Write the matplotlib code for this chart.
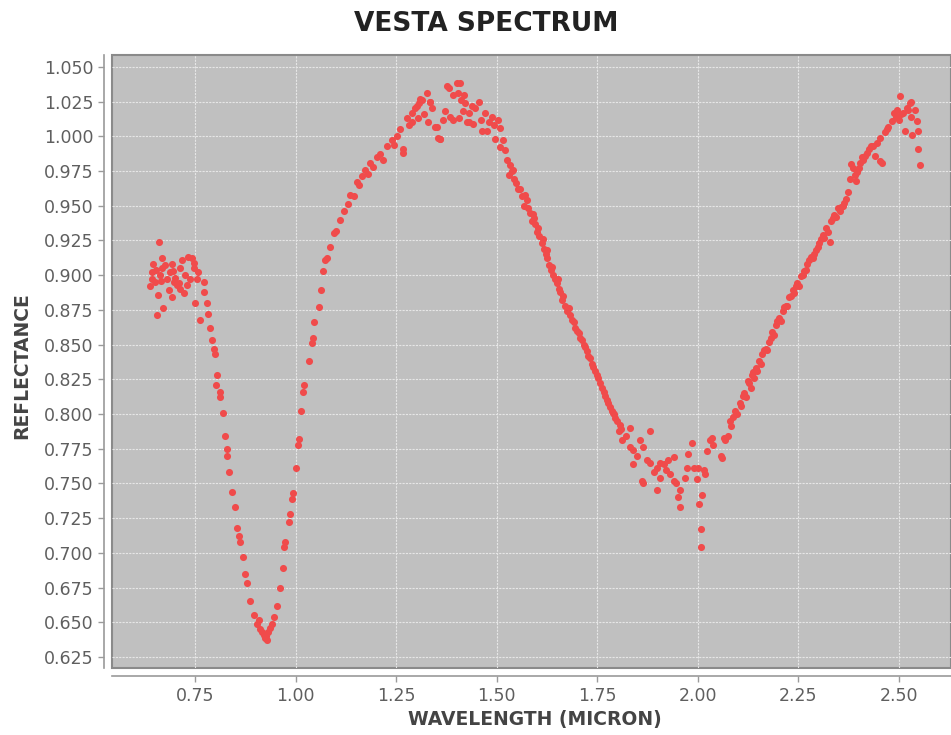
import numpy as np
import matplotlib
matplotlib.use("Agg")
import matplotlib.pyplot as plt
from matplotlib.ticker import FormatStrFormatter

# Vesta reflectance spectrum, wavelength in microns
wl_vis = [0.659, 0.646, 0.667, 0.642, 0.642, 0.638, 0.652, 0.663, 0.675, 0.679,
          0.688, 0.692, 0.696, 0.684, 0.692, 0.700, 0.713, 0.717, 0.725, 0.733,
          0.742, 0.729, 0.746, 0.754, 0.758, 0.771, 0.771, 0.713, 0.710, 0.671,
          0.654, 0.665, 0.650, 0.695, 0.750, 0.762, 0.779, 0.781, 0.657, 0.705,
          0.737, 0.668, 0.722, 0.748]
refl_vis = [0.924, 0.908, 0.912, 0.902, 0.897, 0.892, 0.904, 0.900, 0.907, 0.897,
            0.902, 0.908, 0.895, 0.889, 0.884, 0.898, 0.905, 0.911, 0.900, 0.913,
            0.912, 0.893, 0.905, 0.897, 0.902, 0.895, 0.888, 0.890, 0.894, 0.876,
            0.871, 0.896, 0.895, 0.903, 0.880, 0.868, 0.880, 0.872, 0.886, 0.893,
            0.897, 0.905, 0.887, 0.909]

# 1 micron band
wl_b1 = [0.787, 0.791, 0.796, 0.800, 0.805, 0.802, 0.811, 0.812, 0.820, 0.825,
         0.829, 0.830, 0.835, 0.841, 0.850, 0.854, 0.858, 0.862, 0.869, 0.874,
         0.879, 0.885, 0.895, 0.903, 0.912, 0.920, 0.924, 0.928, 0.932, 0.941,
         0.945, 0.953, 0.961, 0.968, 0.971, 0.973, 0.982, 0.985, 0.991, 0.993,
         1.000, 1.005, 1.007, 1.013, 1.018, 1.020, 1.032, 1.040, 1.043, 1.046,
         1.057, 1.063, 1.069, 1.073, 0.916, 0.936, 0.926, 0.908]
refl_b1 = [0.862, 0.853, 0.847, 0.843, 0.828, 0.821, 0.816, 0.812, 0.801, 0.784,
           0.775, 0.770, 0.758, 0.744, 0.733, 0.718, 0.712, 0.708, 0.697, 0.685,
           0.678, 0.665, 0.655, 0.649, 0.645, 0.641, 0.639, 0.637, 0.643, 0.649,
           0.654, 0.662, 0.675, 0.689, 0.704, 0.708, 0.722, 0.728, 0.739, 0.743,
           0.761, 0.778, 0.782, 0.802, 0.816, 0.821, 0.838, 0.851, 0.855, 0.866,
           0.877, 0.889, 0.903, 0.911, 0.643, 0.646, 0.640, 0.652]

# continuum peak near 1.4 micron
wl_peak = [1.079, 1.086, 1.094, 1.099, 1.111, 1.121, 1.131, 1.136, 1.146, 1.152,
           1.164, 1.173, 1.180, 1.185, 1.202, 1.210, 1.218, 1.227, 1.239, 1.251,
           1.260, 1.268, 1.277, 1.289, 1.301, 1.303, 1.314, 1.326, 1.333, 1.347,
           1.355, 1.360, 1.372, 1.376, 1.380, 1.409, 1.410, 1.416, 1.430, 1.268,
           1.290, 1.306, 1.335, 1.330, 1.351, 1.359, 1.384, 1.401, 1.403, 1.405,
           1.422, 1.426, 1.438, 1.440, 1.455, 1.463, 1.471, 1.476, 1.488, 1.496,
           1.504, 1.509, 1.509, 1.515, 1.192, 1.157, 1.245, 1.282, 1.318, 1.392,
           1.296, 1.310, 1.340, 1.366, 1.392, 1.418, 1.432, 1.447, 1.460, 1.480,
           1.492]
refl_peak = [0.912, 0.920, 0.930, 0.932, 0.940, 0.946, 0.951, 0.958, 0.957, 0.967,
             0.971, 0.976, 0.973, 0.981, 0.985, 0.987, 0.983, 0.993, 0.997, 1.000,
             1.005, 0.991, 1.013, 1.017, 1.022, 1.013, 1.026, 1.031, 1.025, 1.007,
             0.999, 0.998, 1.018, 1.036, 1.035, 1.038, 1.026, 1.018, 1.010, 0.988,
             1.010, 1.024, 1.025, 1.010, 1.007, 0.998, 1.014, 1.038, 1.031, 1.013,
             1.024, 1.010, 1.022, 1.009, 1.025, 1.004, 1.017, 1.004, 1.014, 0.998,
             1.012, 1.006, 0.992, 0.997, 0.978, 0.965, 0.994, 1.008, 1.016, 1.012,
             1.020, 1.027, 1.020, 1.012, 1.030, 1.030, 1.017, 1.020, 1.012, 1.010,
             1.008]

# descending side into the 2 micron band
wl_down = [1.525, 1.534, 1.540, 1.542, 1.554, 1.562, 1.575, 1.583, 1.587, 1.596,
           1.600, 1.612, 1.625, 1.625, 1.629, 1.641, 1.650, 1.658, 1.662, 1.670,
           1.683, 1.691, 1.700, 1.708, 1.716, 1.724, 1.733, 1.740, 1.749, 1.757,
           1.766, 1.774, 1.782, 1.791, 1.799, 1.803, 1.810, 1.548, 1.568, 1.592,
           1.606, 1.618, 1.635, 1.655, 1.676, 1.695, 1.712, 1.728, 1.745, 1.761,
           1.778, 1.786, 1.795, 1.531, 1.579, 1.646,
           1.520, 1.537, 1.558, 1.571, 1.590, 1.603, 1.615, 1.622, 1.638, 1.652,
           1.665, 1.680, 1.688, 1.704, 1.720, 1.737, 1.753, 1.770, 1.788, 1.806]
refl_down = [0.983, 0.979, 0.976, 0.969, 0.962, 0.957, 0.954, 0.945, 0.939, 0.937,
             0.931, 0.923, 0.918, 0.912, 0.907, 0.900, 0.894, 0.888, 0.882, 0.878,
             0.871, 0.866, 0.860, 0.855, 0.850, 0.845, 0.840, 0.834, 0.828, 0.822,
             0.816, 0.810, 0.805, 0.800, 0.795, 0.788, 0.789, 0.966, 0.950, 0.941,
             0.928, 0.919, 0.904, 0.890, 0.874, 0.862, 0.853, 0.842, 0.831, 0.819,
             0.808, 0.802, 0.797, 0.972, 0.948, 0.897,
             0.990, 0.975, 0.962, 0.958, 0.944, 0.934, 0.926, 0.915, 0.906, 0.897,
             0.885, 0.876, 0.868, 0.858, 0.848, 0.836, 0.826, 0.813, 0.801, 0.792]

# noisy 2 micron band minimum
wl_b2 = [1.832, 1.811, 1.832, 1.840, 1.857, 1.864, 1.882, 1.840, 1.874, 1.880,
         1.899, 1.905, 1.927, 1.940, 1.861, 1.865, 1.899, 1.907, 1.920, 1.932,
         1.940, 1.945, 1.956, 1.952, 1.956, 1.969, 1.973, 1.977, 1.986, 1.990,
         1.998, 2.000, 2.015, 2.017, 2.011, 2.003, 2.007, 2.007, 2.022, 2.031,
         2.035, 2.037, 2.057, 2.060, 2.069, 2.075, 1.822, 1.850, 1.890, 1.915]
refl_b2 = [0.790, 0.781, 0.776, 0.774, 0.781, 0.776, 0.788, 0.764, 0.767, 0.765,
           0.761, 0.765, 0.767, 0.769, 0.752, 0.750, 0.745, 0.754, 0.760, 0.757,
           0.752, 0.750, 0.745, 0.740, 0.733, 0.754, 0.761, 0.771, 0.779, 0.761,
           0.753, 0.761, 0.760, 0.757, 0.742, 0.735, 0.717, 0.704, 0.773, 0.781,
           0.783, 0.778, 0.770, 0.768, 0.781, 0.784, 0.784, 0.770, 0.758, 0.764]

# rising side up to the 2.5 micron edge
wl_up = [2.065, 2.080, 2.092, 2.105, 2.115, 2.127, 2.136, 2.144, 2.152, 2.161,
         2.169, 2.177, 2.185, 2.194, 2.202, 2.211, 2.219, 2.227, 2.236, 2.248,
         2.257, 2.265, 2.273, 2.282, 2.294, 2.302, 2.311, 2.319, 2.328, 2.332,
         2.340, 2.353, 2.361, 2.369, 2.374, 2.378, 2.382, 2.390, 2.393, 2.396,
         2.400, 2.404, 2.412, 2.416, 2.425, 2.430, 2.441, 2.453, 2.458, 2.446,
         2.453, 2.466, 2.474, 2.483, 2.487, 2.496, 2.504, 2.506, 2.510, 2.520,
         2.528, 2.531, 2.541, 2.531, 2.545, 2.515, 2.533, 2.549, 2.549, 2.553,
         2.082, 2.098, 2.107, 2.120, 2.132, 2.140, 2.148, 2.157, 2.173, 2.190,
         2.206, 2.223, 2.240, 2.252, 2.270, 2.286, 2.298, 2.315, 2.345, 2.357,
         2.386, 2.408, 2.420, 2.436, 2.470, 2.492, 2.500, 2.524,
         2.088, 2.112, 2.125, 2.138, 2.165, 2.181, 2.198, 2.215, 2.231, 2.244,
         2.261, 2.278, 2.290, 2.307, 2.323, 2.336, 2.349, 2.365]
refl_up = [0.783, 0.795, 0.802, 0.808, 0.815, 0.822, 0.828, 0.833, 0.838, 0.843,
           0.847, 0.852, 0.859, 0.864, 0.869, 0.874, 0.878, 0.884, 0.889, 0.894,
           0.899, 0.903, 0.908, 0.913, 0.918, 0.923, 0.929, 0.934, 0.924, 0.939,
           0.943, 0.946, 0.950, 0.955, 0.960, 0.969, 0.980, 0.972, 0.968, 0.974,
           0.977, 0.981, 0.983, 0.986, 0.991, 0.993, 0.986, 0.982, 0.981, 0.995,
           0.999, 1.003, 1.007, 1.011, 1.017, 1.019, 1.029, 1.016, 1.017, 1.020,
           1.024, 1.025, 1.019, 1.014, 1.011, 1.004, 1.001, 1.004, 0.991, 0.979,
           0.791, 0.800, 0.806, 0.812, 0.819, 0.826, 0.831, 0.836, 0.846, 0.857,
           0.867, 0.878, 0.887, 0.892, 0.904, 0.912, 0.920, 0.927, 0.942, 0.949,
           0.977, 0.985, 0.988, 0.993, 1.005, 1.014, 1.012, 1.019,
           0.798, 0.813, 0.824, 0.830, 0.846, 0.855, 0.867, 0.877, 0.885, 0.892,
           0.900, 0.911, 0.915, 0.926, 0.931, 0.941, 0.948, 0.952]

wavelength = np.concatenate([wl_vis, wl_b1, wl_peak, wl_down, wl_b2, wl_up])
reflectance = np.concatenate([refl_vis, refl_b1, refl_peak, refl_down, refl_b2, refl_up])

xticks = [0.75, 1.00, 1.25, 1.50, 1.75, 2.00, 2.25, 2.50]
yticks = [0.625, 0.650, 0.675, 0.700, 0.725, 0.750, 0.775, 0.800, 0.825, 0.850,
          0.875, 0.900, 0.925, 0.950, 0.975, 1.000, 1.025, 1.050]

fig = plt.figure(figsize=(9.51, 7.35), dpi=100, facecolor="white")
ax = fig.add_axes([0.1178, 0.0912, 0.8822, 0.8338])
ax.set_facecolor("#c0c0c0")
ax.patch.set_edgecolor("#8a8a8a")
ax.patch.set_linewidth(1.5)

ax.scatter(wavelength, reflectance, s=26, color="#f04b4b", linewidths=0, zorder=3)

ax.set_xlim(0.543, 2.63)
ax.set_ylim(0.6171, 1.0584)
ax.set_xticks(xticks)
ax.set_yticks(yticks)
ax.xaxis.set_major_formatter(FormatStrFormatter("%.2f"))
ax.yaxis.set_major_formatter(FormatStrFormatter("%.3f"))
ax.grid(True, color="#e6e6e6", linewidth=0.8, linestyle=(0, (2, 1)), zorder=1)
ax.set_axisbelow(True)

for side in ("top", "right"):
    ax.spines[side].set_visible(False)
for side in ("left", "bottom"):
    ax.spines[side].set_position(("outward", 6))
    ax.spines[side].set_color("#9a9a9a")
    ax.spines[side].set_linewidth(1.2)
ax.tick_params(colors="#9a9a9a", labelcolor="#5f5f5f", labelsize=12.5,
               length=4, width=1)

fig.text(0.511, 0.968, "VESTA SPECTRUM", ha="center", va="center",
         fontsize=19, fontweight="bold", family="DejaVu Sans", color="#222222")
fig.text(0.562, 0.021, "WAVELENGTH (MICRON)", ha="center", va="center",
         fontsize=13.5, fontweight="bold", family="DejaVu Sans", color="#444444")
fig.text(0.023, 0.503, "REFLECTANCE", ha="center", va="center", rotation=90,
         fontsize=13.5, fontweight="bold", family="DejaVu Sans", color="#444444")

fig.savefig("out.png", dpi=100)
